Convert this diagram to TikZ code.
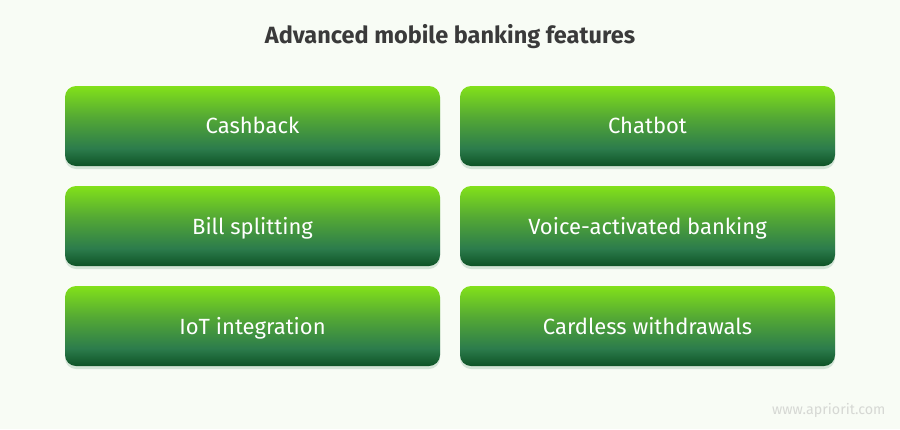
\documentclass[tikz,border=0pt]{standalone}
\usepackage{fontspec}
\setmainfont{Fira Sans}
\usetikzlibrary{shadows}

\definecolor{pagebg}{HTML}{F8FCF5}
\definecolor{gtop}{HTML}{82E11A}
\definecolor{glow}{HTML}{55AA34}
\definecolor{gmid}{HTML}{2C7C4C}
\definecolor{gdark}{HTML}{0E5326}
\definecolor{titlegray}{HTML}{3A3A3A}
\definecolor{markgray}{HTML}{D6D8D4}

\pgfdeclareverticalshading{featshade}{100bp}{color(0bp)=(gdark); color(25bp)=(gdark); color(36bp)=(gmid); color(56bp)=(glow); color(75bp)=(gtop); color(100bp)=(gtop)}

\tikzset{
  feature/.style={shading=featshade,rounded corners=11pt,
    minimum width=375pt,minimum height=80pt,inner sep=0pt,
    text=white,font=\fontsize{22}{26}\selectfont,text depth=1pt,
    drop shadow={shadow xshift=0pt,shadow yshift=-3pt,opacity=.18,fill=gmid}},
}

\begin{document}
\begin{tikzpicture}[x=1pt,y=-1pt]
  \fill[pagebg] (0,0) rectangle (900,429);
  \useasboundingbox (0,0) rectangle (900,429);

  \node[text=titlegray,font=\bfseries\fontsize{23.5}{28}\selectfont] (title) at (450,37) {Advanced mobile banking features};

  \node[feature] (cashback) at (252.5,126) {Cashback};
  \node[feature] (chatbot) at (647.5,126) {Chatbot};
  \node[feature] (split) at (252.5,226) {Bill splitting};
  \node[feature] (voice) at (647.5,226) {Voice-activated banking};
  \node[feature] (iot) at (252.5,326) {IoT integration};
  \node[feature] (cardless) at (647.5,326) {Cardless withdrawals};

  \node[text=markgray,font=\fontsize{14.3}{17}\selectfont,anchor=east] (mark) at (889,410) {www.apriorit.com};
\end{tikzpicture}
\end{document}
